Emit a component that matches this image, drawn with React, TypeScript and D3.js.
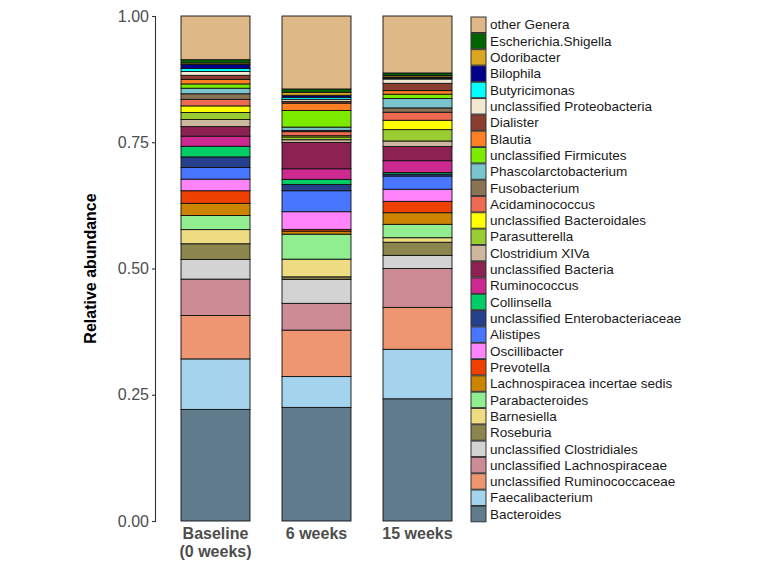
import { useEffect, useRef } from 'react';
import * as d3 from 'd3';

// stack order, bottom first
const GENERA: string[] = [
  'Bacteroides', 'Faecalibacterium', 'unclassified Ruminococcaceae', 'unclassified Lachnospiraceae',
  'unclassified Clostridiales', 'Roseburia', 'Barnesiella', 'Parabacteroides',
  'Lachnospiracea incertae sedis', 'Prevotella', 'Oscillibacter', 'Alistipes',
  'unclassified Enterobacteriaceae', 'Collinsella', 'Ruminococcus', 'unclassified Bacteria',
  'Clostridium XIVa', 'Parasutterella', 'unclassified Bacteroidales', 'Acidaminococcus',
  'Fusobacterium', 'Phascolarctobacterium', 'unclassified Firmicutes', 'Blautia',
  'Dialister', 'unclassified Proteobacteria', 'Butyricimonas', 'Bilophila',
  'Odoribacter', 'Escherichia.Shigella', 'other Genera',
];

const COLORS: string[] = [
  '#607B8B', '#A4D3EE', '#EE9572', '#CD8C95',
  '#D3D3D3', '#8B864E', '#EEDC82', '#90EE90',
  '#CD8500', '#EE4000', '#FF83FA', '#4876FF',
  '#27408B', '#00CD66', '#CD2990', '#8B2252',
  '#CDB79E', '#9ACD32', '#FFFF00', '#EE6A50',
  '#8B7355', '#7AC5CD', '#7CEB00', '#FF7F24',
  '#8B3E2F', '#F3E9D2', '#00FFFF', '#00008B',
  '#DAA520', '#006400', '#DEB887',
];

const SAMPLES: string[] = ['Baseline\n(0 weeks)', '6 weeks', '15 weeks'];

const BASELINE: number[] = [
  0.221, 0.100, 0.086, 0.072, 0.039, 0.031, 0.028, 0.028,
  0.024, 0.025, 0.023, 0.023, 0.021, 0.021, 0.020, 0.019,
  0.014, 0.014, 0.013, 0.013, 0.011, 0.011, 0.0085, 0.009,
  0.008, 0.0075, 0.006, 0.008, 0.003, 0.0065, 0.0865,
];
const WEEK6: number[] = [
  0.225, 0.061, 0.092, 0.053, 0.0475, 0.005, 0.035, 0.0495,
  0.006, 0.0035, 0.035, 0.0415, 0.0125, 0.010, 0.021, 0.052,
  0.0055, 0.0055, 0.0025, 0.008, 0.0025, 0.0065, 0.033, 0.0145,
  0.0035, 0.004, 0.004, 0.004, 0.006, 0.0065, 0.1445,
];
const WEEK15: number[] = [
  0.242, 0.098, 0.083, 0.077, 0.026, 0.026, 0.009, 0.0265,
  0.023, 0.0225, 0.024, 0.026, 0.004, 0.003, 0.0235, 0.028,
  0.011, 0.0225, 0.0185, 0.016, 0.0085, 0.0185, 0.0087, 0.007,
  0.0145, 0.0085, 0.002, 0.002, 0.003, 0.005, 0.1128,
];

const Y_TICKS: number[] = [0, 0.25, 0.5, 0.75, 1];

const FONT = '"Liberation Sans", Arial, sans-serif';
const W = 767, H = 575;

export default function App() {
  const svgRef = useRef<SVGSVGElement | null>(null);

  useEffect(() => {
    if (!svgRef.current) return;
    const svg = d3.select(svgRef.current);
    svg.selectAll('*').remove();

    const top = 16, bottom = 521, left = 155, right = 478;

    const rows = SAMPLES.map((s, i) => {
      const vals = [BASELINE, WEEK6, WEEK15][i];
      const r: Record<string, any> = { sample: s };
      GENERA.forEach((g, j) => { r[g] = vals[j]; });
      return r;
    });

    const stack = d3.stack<Record<string, any>>().keys(GENERA);
    const series = stack(rows);

    const x = d3.scaleBand<string>().domain(SAMPLES).range([left, right])
      .paddingInner(0.317).paddingOuter(0.2575);
    const y = d3.scaleLinear().domain([0, 1]).range([bottom, top]);
    const color = d3.scaleOrdinal<string, string>().domain(GENERA).range(COLORS);

    // bars
    const layers = svg.append('g').selectAll('g').data(series).enter().append('g')
      .attr('fill', d => color(d.key));
    layers.selectAll('rect').data(d => d).enter().append('rect')
      .attr('x', d => x(d.data.sample as string)!)
      .attr('width', x.bandwidth())
      .attr('y', d => y(d[1]))
      .attr('height', d => Math.max(0, y(d[0]) - y(d[1])))
      .attr('stroke', '#111')
      .attr('stroke-width', 0.9);

    // y axis
    svg.append('g').attr('transform', `translate(${left},0)`)
      .call(d3.axisLeft(y).tickValues(Y_TICKS).tickFormat(d3.format('.2f')).tickSize(3).tickPadding(3))
      .call(ax => ax.select('.domain').attr('stroke', '#333').attr('stroke-width', 1.1))
      .call(ax => ax.selectAll('.tick line').attr('stroke', '#333').attr('stroke-width', 1.1))
      .call(ax => ax.selectAll('.tick text').attr('fill', '#4D4D4D')
        .style('font-size', '16px').style('font-family', FONT));

    svg.append('text')
      .attr('transform', `translate(96,${(top + bottom) / 2}) rotate(-90)`)
      .attr('text-anchor', 'middle')
      .style('font-family', FONT).style('font-size', '16px').style('font-weight', 'bold')
      .attr('fill', '#000')
      .text('Relative abundance');

    // x labels
    SAMPLES.forEach(s => {
      const cx = x(s)! + x.bandwidth() / 2;
      const t = svg.append('text').attr('text-anchor', 'middle')
        .style('font-family', FONT).style('font-size', '16px').style('font-weight', 'bold')
        .attr('fill', '#4D4D4D');
      s.split('\n').forEach((line, i) => {
        t.append('tspan').attr('x', cx).attr('y', 539 + i * 18).text(line);
      });
    });

    // legend, top entry is last stacked
    const legendItems = GENERA.slice().reverse();
    const lg = svg.append('g').attr('transform', 'translate(471,17)');
    legendItems.forEach((g, i) => {
      const row = lg.append('g').attr('transform', `translate(0,${i * 16.31})`);
      row.append('rect').attr('width', 15).attr('height', 15.5)
        .attr('fill', color(g)).attr('stroke', '#333').attr('stroke-width', 1);
      row.append('text').attr('x', 19).attr('y', 7.75).attr('dy', '0.35em')
        .style('font-family', FONT).style('font-size', '13.5px').attr('fill', '#1a1a1a')
        .text(g);
    });
  }, []);

  return (
    <svg ref={svgRef} width={W} height={H} viewBox={`0 0 ${W} ${H}`}
      style={{ position: 'absolute', left: 0, top: 0, background: '#fff' }} />
  );
}
